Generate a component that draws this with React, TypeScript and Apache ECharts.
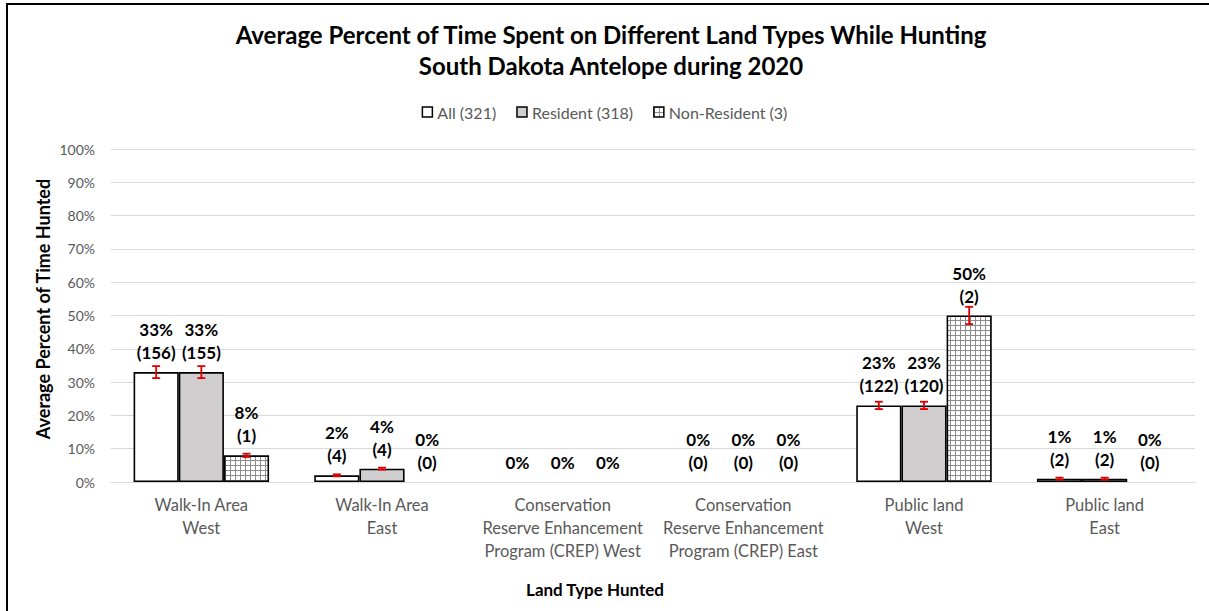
import React, { useEffect, useRef } from 'react';
import * as echarts from 'echarts';

const categories = [
  'Walk-In Area\nWest',
  'Walk-In Area\nEast',
  'Conservation\nReserve Enhancement\nProgram (CREP) West',
  'Conservation\nReserve Enhancement\nProgram (CREP) East',
  'Public land\nWest',
  'Public land\nEast',
];
const seriesNames = ['All (321)', 'Resident (318)', 'Non-Resident (3)'];
const allValues = [33, 2, 0, 0, 23, 1];
const residentValues = [33, 4, 0, 0, 23, 1];
const nonResidentValues = [8, 0, 0, 0, 50, 0];
const allCounts: (number | null)[] = [156, 4, null, 0, 122, 2];
const residentCounts: (number | null)[] = [155, 4, null, 0, 120, 2];
const nonResidentCounts: (number | null)[] = [1, 0, null, 0, 2, 0];
const allErrors = [1.8, 0.3, 0, 0, 1.1, 0.3];
const residentErrors = [1.8, 0.3, 0, 0, 1.1, 0.3];
const nonResidentErrors = [0.5, 0, 0, 0, 2.6, 0];
const titleLines = [
  'Average Percent of Time Spent on Different Land Types While Hunting',
  'South Dakota Antelope during 2020',
];
const yAxisTitle = 'Average Percent of Time Hunted';
const xAxisTitle = 'Land Type Hunted';

const FONT = 'Lato, "Noto Sans", sans-serif';

const gridPattern =
  'data:image/svg+xml;utf8,' +
  encodeURIComponent(
    "<svg xmlns='http://www.w3.org/2000/svg' width='5' height='5'><rect width='5' height='5' fill='white'/><path d='M0 0.5H5M0.5 0V5' stroke='#8c8c8c' stroke-width='1'/></svg>"
  );

export default function App() {
  const ref = useRef<HTMLDivElement>(null);
  useEffect(() => {
    document.body.style.margin = '0';
    const chart = echarts.init(ref.current!, null, { renderer: 'svg' });

    const valueSets = [allValues, residentValues, nonResidentValues];
    const countSets = [allCounts, residentCounts, nonResidentCounts];
    const errorSets = [allErrors, residentErrors, nonResidentErrors];
    const fills: any[] = [
      '#ffffff',
      '#d0cece',
      { image: gridPattern, repeat: 'repeat', imageWidth: 5, imageHeight: 5 },
    ];

    const barSeries = valueSets.map((vals, si) => ({
      type: 'bar',
      name: seriesNames[si],
      barGap: '0%',
      barCategoryGap: '25%',
      itemStyle: { color: fills[si], borderColor: '#000', borderWidth: 1.6 },
      label: {
        show: true,
        position: 'top',
        distance: 8,
        color: '#000',
        fontWeight: 'bold',
        fontSize: 17,
        fontFamily: FONT,
        lineHeight: 23,
        formatter: (p: any) => {
          const c = countSets[si][p.dataIndex];
          return c == null ? `${p.value}%` : `${p.value}%\n(${c})`;
        },
      },
      data: vals.map((v) => (v === 0 ? { value: v, itemStyle: { borderWidth: 0 } } : v)),
      z: 2,
    }));

    const errData: number[][] = [];
    valueSets.forEach((vals, si) =>
      vals.forEach((v, ci) => {
        if (errorSets[si][ci] > 0) errData.push([ci, si, v, errorSets[si][ci]]);
      })
    );

    const errSeries = {
      type: 'custom',
      name: 'err',
      z: 5,
      renderItem: (params: any, api: any) => {
        const ci = api.value(0);
        const si = api.value(1);
        const v = api.value(2);
        const e = api.value(3);
        const catW = api.size([1, 0])[0];
        const barW = (catW * 0.75) / 3;
        const x = api.coord([ci, v])[0] + (si - 1) * barW;
        const top = api.coord([ci, v + e])[1];
        const bot = api.coord([ci, v - e])[1];
        const cap = 4;
        const style = { stroke: '#e00000', lineWidth: 1.8 };
        return {
          type: 'group',
          children: [
            { type: 'line', shape: { x1: x, y1: top, x2: x, y2: bot }, style },
            { type: 'line', shape: { x1: x - cap, y1: top, x2: x + cap, y2: top }, style },
            { type: 'line', shape: { x1: x - cap, y1: bot, x2: x + cap, y2: bot }, style },
          ],
        };
      },
      data: errData,
    };

    chart.setOption({
      animation: false,
      backgroundColor: '#fff',
      textStyle: { fontFamily: FONT },
      legend: {
        data: seriesNames,
        top: 99,
        left: 'center',
        itemWidth: 10,
        itemHeight: 10,
        itemGap: 20,
        icon: 'rect',
        textStyle: { color: '#595959', fontSize: 16, fontFamily: FONT },
        itemStyle: { borderColor: '#000', borderWidth: 1.5 },
      },
      grid: { left: 111, right: 14, top: 149, bottom: 129 },
      xAxis: {
        type: 'category',
        data: categories,
        axisLine: { show: true, lineStyle: { color: '#d9d9d9', width: 1 } },
        axisTick: { show: false },
        axisLabel: {
          color: '#595959',
          fontSize: 16.5,
          fontFamily: FONT,
          lineHeight: 23,
          margin: 11,
          interval: 0,
        },
      },
      yAxis: {
        type: 'value',
        min: 0,
        max: 100,
        interval: 10,
        axisLine: { show: false },
        axisTick: { show: false },
        splitLine: { lineStyle: { color: '#d9d9d9', width: 1 } },
        axisLabel: {
          color: '#595959',
          fontSize: 14,
          fontFamily: FONT,
          margin: 16,
          formatter: '{value}%',
        },
      },
      graphic: [
        {
          type: 'rect',
          shape: { x: 7, y: 4, width: 1240, height: 700 },
          style: { fill: 'none', stroke: '#000', lineWidth: 2 },
          silent: true,
          z: 100,
        },
        {
          type: 'text',
          x: 611,
          y: 34,
          style: {
            text: titleLines[0],
            align: 'center',
            verticalAlign: 'middle',
            fontSize: 24,
            fontWeight: 'bold',
            fontFamily: FONT,
            fill: '#000',
          },
        },
        {
          type: 'text',
          x: 611,
          y: 65,
          style: {
            text: titleLines[1],
            align: 'center',
            verticalAlign: 'middle',
            fontSize: 24,
            fontWeight: 'bold',
            fontFamily: FONT,
            fill: '#000',
          },
        },
        {
          type: 'text',
          x: 43,
          y: 309,
          rotation: Math.PI / 2,
          style: {
            text: yAxisTitle,
            align: 'center',
            verticalAlign: 'middle',
            fontSize: 18,
            fontWeight: 'bold',
            fontFamily: FONT,
            fill: '#000',
          },
        },
        {
          type: 'text',
          x: 595,
          y: 589,
          style: {
            text: xAxisTitle,
            align: 'center',
            verticalAlign: 'middle',
            fontSize: 17,
            fontWeight: 'bold',
            fontFamily: FONT,
            fill: '#000',
          },
        },
      ],
      series: [...barSeries, errSeries],
    });

    return () => chart.dispose();
  }, []);

  return <div ref={ref} style={{ width: 1209, height: 611 }} />;
}
